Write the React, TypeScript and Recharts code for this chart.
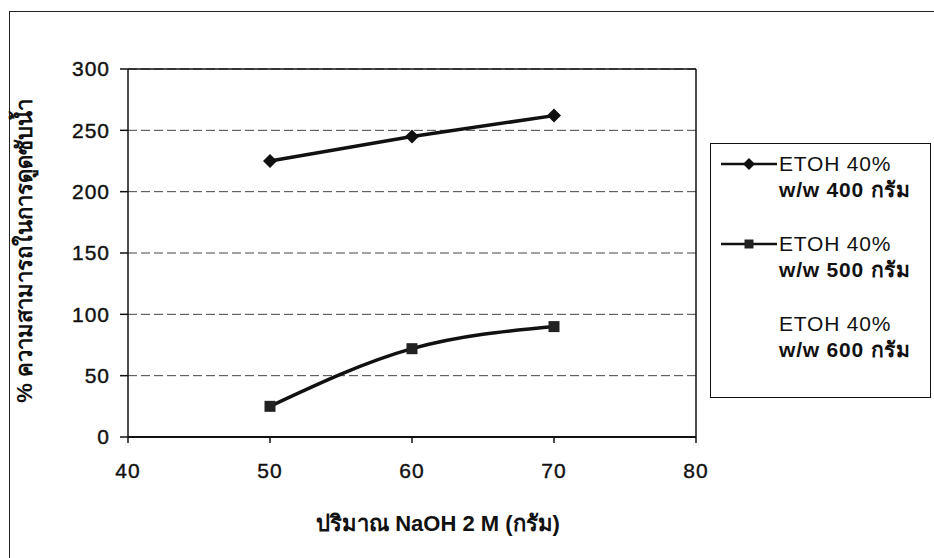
import React from 'react';
import {
  LineChart, Line, XAxis, YAxis, CartesianGrid, ReferenceLine,
} from 'recharts';

const naohGrams = [50, 60, 70];
const etoh400 = [225, 245, 262];
const etoh500 = [25, 72, 90];
const etoh600: (number | null)[] = [null, null, null];

const xTicks = [40, 50, 60, 70, 80];
const yTicks = [0, 50, 100, 150, 200, 250, 300];

const seriesNames = ['ETOH 40%|w/w 400 กรัม', 'ETOH 40%|w/w 500 กรัม', 'ETOH 40%|w/w 600 กรัม'];

const FONT = '"Liberation Sans", Arial, "Noto Sans", sans-serif';

const data = naohGrams.map((x, i) => ({
  x,
  s400: etoh400[i],
  s500: etoh500[i],
  s600: etoh600[i],
}));

function Diamond({ cx, cy, r = 7 }: { cx: number; cy: number; r?: number }) {
  return <path d={`M${cx},${cy - r} L${cx + r},${cy} L${cx},${cy + r} L${cx - r},${cy} Z`} fill="#111" />;
}

function Square({ cx, cy, s = 11 }: { cx: number; cy: number; s?: number }) {
  return <rect x={cx - s / 2} y={cy - s / 2} width={s} height={s} fill="#222" />;
}

function renderDiamond(props: any) {
  if (props.cx == null || props.cy == null) return <g key={props.index} />;
  return <Diamond key={props.index} cx={props.cx} cy={props.cy} />;
}

function renderSquare(props: any) {
  if (props.cx == null || props.cy == null) return <g key={props.index} />;
  return <Square key={props.index} cx={props.cx} cy={props.cy} />;
}

// legend drawn by hand, the 600 g series has no line or marker
function LegendBox() {
  const symbols = ['diamond', 'square', 'none'];
  return (
    <div
      style={{
        position: 'absolute',
        left: 710,
        top: 143,
        width: 221,
        height: 255,
        border: '1.5px solid #111',
        background: '#fff',
        fontFamily: FONT,
        fontSize: 21,
        letterSpacing: 0.8,
        color: '#111',
        boxSizing: 'border-box',
        paddingTop: 7,
      }}
    >
      {seriesNames.map((name, i) => {
        const [l1, l2] = name.split('|');
        return (
          <div key={name} style={{ display: 'flex', height: 80, alignItems: 'flex-start' }}>
            <svg width={58} height={26} style={{ flexShrink: 0, marginLeft: 8 }}>
              {symbols[i] !== 'none' && (
                <>
                  <line x1={2} y1={13} x2={58} y2={13} stroke="#111" strokeWidth={2.5} />
                  {symbols[i] === 'diamond' ? <Diamond cx={30} cy={13} r={6} /> : <Square cx={30} cy={13} s={9} />}
                </>
              )}
            </svg>
            <div style={{ lineHeight: '26px', marginLeft: 2, whiteSpace: 'nowrap' }}>
              <div>{l1}</div>
              <div style={{ fontWeight: 700 }}>{l2}</div>
            </div>
          </div>
        );
      })}
    </div>
  );
}

export default function App() {
  return (
    <div style={{ position: 'absolute', left: 0, top: 0, width: 934, height: 558, background: '#fff', overflow: 'hidden' }}>
      <div
        style={{
          position: 'absolute', left: 9, top: 11, width: 940, height: 560,
          borderLeft: '1.5px solid #222', borderTop: '1.5px solid #222',
        }}
      />
      <LineChart
        width={934}
        height={558}
        data={data}
        margin={{ top: 69, right: 238, bottom: 91, left: 48 }}
        style={{ position: 'absolute', left: 0, top: 0, fontFamily: FONT }}
      >
        <CartesianGrid vertical={false} stroke="#444" strokeDasharray="9 4" strokeWidth={1} />
        <XAxis
          dataKey="x"
          type="number"
          domain={[40, 80]}
          ticks={xTicks}
          height={30}
          tickSize={6}
          tickMargin={20}
          axisLine={{ stroke: '#111', strokeWidth: 2 }}
          tickLine={{ stroke: '#111', strokeWidth: 1.5 }}
          tick={{ fill: '#111', fontSize: 21, stroke: '#111', strokeWidth: 0.4, letterSpacing: 1 }}
          label={{
            content: () => (
              <text x={438} y={531} textAnchor="middle" fontSize={22} fontWeight={700} fill="#111" fontFamily={FONT}>
                ปริมาณ NaOH 2 M (กรัม)
              </text>
            ),
          }}
        />
        <YAxis
          type="number"
          domain={[0, 300]}
          ticks={yTicks}
          interval={0}
          width={80}
          tickSize={8}
          tickMargin={10}
          axisLine={{ stroke: '#111', strokeWidth: 1.5 }}
          tickLine={{ stroke: '#111', strokeWidth: 1.5 }}
          tick={{ fill: '#111', fontSize: 21, stroke: '#111', strokeWidth: 0.4, letterSpacing: 1 }}
          label={{
            content: () => (
              <text
                x={26}
                y={251}
                transform="rotate(-90 26 251)"
                textAnchor="middle"
                dominantBaseline="middle"
                fontSize={22}
                fontWeight={700}
                fill="#111"
                fontFamily={FONT}
              >
                % ความสามารถในการดูดซับน้ำ
              </text>
            ),
          }}
        />
        <ReferenceLine y={300} stroke="#111" strokeWidth={1.5} />
        <ReferenceLine x={80} stroke="#111" strokeWidth={1.5} />
        <Line dataKey="s400" name="ETOH 40% w/w 400 กรัม" stroke="#111" strokeWidth={3.5} dot={renderDiamond} activeDot={false} isAnimationActive={false} />
        <Line dataKey="s500" name="ETOH 40% w/w 500 กรัม" stroke="#111" strokeWidth={3.5} dot={renderSquare} activeDot={false} isAnimationActive={false} type="monotone" />
        <Line dataKey="s600" name="ETOH 40% w/w 600 กรัม" stroke="none" dot={false} activeDot={false} isAnimationActive={false} />
      </LineChart>
      <LegendBox />
    </div>
  );
}
